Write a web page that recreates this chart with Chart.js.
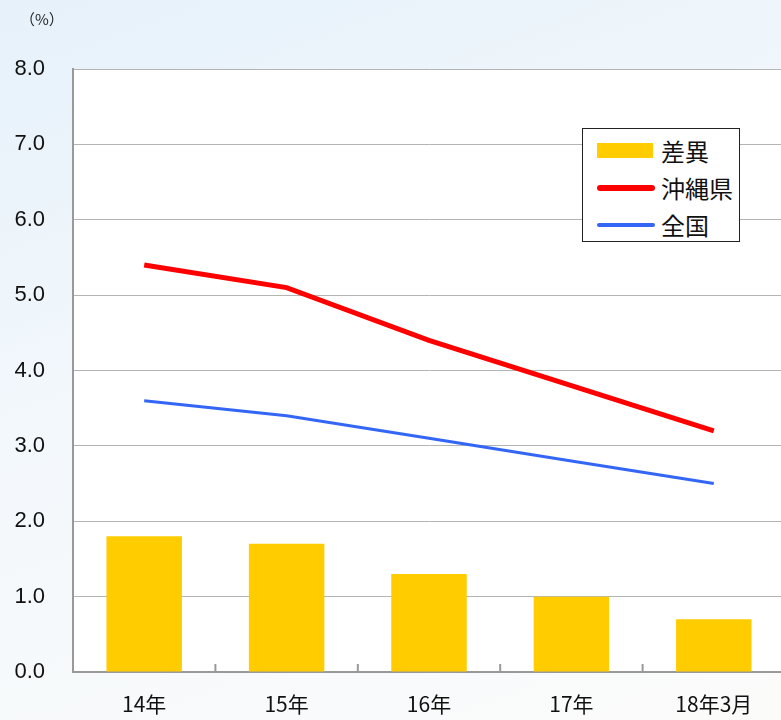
<!DOCTYPE html>
<html lang="ja">
<head>
<meta charset="UTF-8">
<title>差異</title>
<script src="https://cdn.jsdelivr.net/npm/chart.js"></script>
<style>
    html, body {
        margin: 0;
        padding: 0;
        overflow: hidden;
    }
    body {
        width: 781px;
        height: 720px;
        background: linear-gradient(160deg, #e6f1fa 0%, #f3f8fc 45%, #fbfbfa 100%);
        font-family: 'Noto Sans CJK JP', sans-serif;
        position: relative;
    }
    .wrap {
        position: absolute;
        left: 0;
        top: 0;
        width: 790px;
        height: 720px;
    }
    .unit {
        position: absolute;
        left: 20px;
        top: 8px;
        font-size: 15px;
        color: #222;
    }
    #legend {
        position: absolute;
        left: 582px;
        top: 128px;
        width: 158px;
        height: 114px;
        background: #fff;
        border: 1px solid #222;
        box-sizing: border-box;
        padding-top: 3px;
    }
    #legend .item {
        display: flex;
        align-items: center;
        height: 37px;
        font-size: 24px;
        color: #111;
    }
    #legend .mark {
        width: 58px;
        margin-left: 14px;
        margin-right: 6px;
        display: flex;
        align-items: center;
    }
</style>
</head>
<body>
<div class="wrap"><canvas id="c" width="790" height="720"></canvas></div>
<div class="unit">（%）</div>
<div id="legend"></div>
<script>
const categories = ["14年", "15年", "16年", "17年", "18年3月"];
const sai = [1.8, 1.7, 1.3, 1.0, 0.7];
const okinawa = [5.4, 5.1, 4.4, 3.8, 3.2];
const zenkoku = [3.6, 3.4, 3.1, 2.8, 2.5];
const yTicks = [0, 1, 2, 3, 4, 5, 6, 7, 8];

// 軸の内側に向いた目盛り（カテゴリの境目）
const innerTicks = {
    id: "innerTicks",
    afterDatasetsDraw(chart) {
        const x = chart.scales.x;
        const ctx = chart.ctx;
        const bottom = chart.chartArea.bottom;
        ctx.save();
        ctx.strokeStyle = "#999";
        ctx.lineWidth = 2;
        for (let i = 0; i < categories.length - 1; i++) {
            const px = (x.getPixelForValue(i) + x.getPixelForValue(i + 1)) / 2;
            ctx.beginPath();
            ctx.moveTo(px, bottom);
            ctx.lineTo(px, bottom - 8);
            ctx.stroke();
        }
        ctx.restore();
    }
};

const areaBg = {
    id: "areaBg",
    beforeDraw(chart) {
        const a = chart.chartArea;
        chart.ctx.save();
        chart.ctx.fillStyle = "#fff";
        chart.ctx.fillRect(a.left, a.top, a.right - a.left, a.bottom - a.top);
        chart.ctx.restore();
    }
};

const chart = new Chart(document.getElementById("c"), {
    data: {
        labels: categories,
        datasets: [
            {
                type: "line",
                label: "沖縄県",
                data: okinawa,
                borderColor: "#ff0000",
                borderWidth: 5,
                pointRadius: 0,
                tension: 0,
                order: 1
            },
            {
                type: "line",
                label: "全国",
                data: zenkoku,
                borderColor: "#3366f5",
                borderWidth: 3,
                pointRadius: 0,
                tension: 0,
                order: 2
            },
            {
                type: "bar",
                label: "差異",
                data: sai,
                backgroundColor: "#ffcc00",
                categoryPercentage: 1,
                barPercentage: 0.53,
                order: 3
            }
        ]
    },
    options: {
        responsive: false,
        animation: false,
        layout: { padding: { top: 69, right: 5, left: 0, bottom: 0 } },
        plugins: {
            legend: { display: false },
            tooltip: { enabled: false }
        },
        scales: {
            x: {
                offset: true,
                grid: { display: false },
                border: { color: "#999", width: 2 },
                ticks: {
                    color: "#111",
                    padding: 11,
                    font: { family: "'Noto Sans CJK JP'", size: 21 }
                },
                afterFit(scale) { scale.height = 48; }
            },
            y: {
                min: 0,
                max: 8,
                afterBuildTicks(scale) {
                    scale.ticks = yTicks.map(v => ({ value: v }));
                },
                grid: { color: "#b4b4b4", lineWidth: 1, drawTicks: false },
                border: { color: "#999", width: 2 },
                ticks: {
                    color: "#111",
                    padding: 28,
                    font: { family: "'Liberation Sans', Arial, sans-serif", size: 22 },
                    callback: v => v.toFixed(1)
                },
                afterFit(scale) { scale.width = 73; }
            }
        }
    },
    plugins: [areaBg, innerTicks]
});

// 凡例
const legend = document.getElementById("legend");
["差異", "沖縄県", "全国"].forEach(name => {
    const ds = chart.data.datasets.find(d => d.label === name);
    const item = document.createElement("div");
    item.className = "item";
    const mark = document.createElement("div");
    mark.className = "mark";
    const sw = document.createElement("div");
    if (ds.type === "bar") {
        sw.style.cssText = "width:56px;height:15px;background:" + ds.backgroundColor;
    } else {
        sw.style.cssText = "width:58px;height:" + (ds.borderWidth + 1) + "px;border-radius:3px;background:" + ds.borderColor;
    }
    mark.appendChild(sw);
    item.appendChild(mark);
    item.appendChild(document.createTextNode(name));
    legend.appendChild(item);
});
</script>
</body>
</html>
